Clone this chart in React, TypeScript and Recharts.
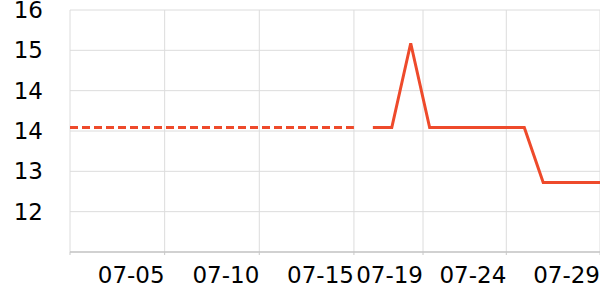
import React from 'react';
import { LineChart, Line, XAxis, YAxis, CartesianGrid } from 'recharts';

// x positions are day indexes along the axis
const xDays = [0, 1, 2, 3, 4, 5, 6, 7, 8, 9, 10, 11, 12, 13, 14, 15, 16, 17, 18, 19, 20, 21, 22, 23, 24, 25, 26, 27, 28];
const dashedValues: (number | null)[] = [
  13.67, 13.67, 13.67, 13.67, 13.67, 13.67, 13.67, 13.67, 13.67, 13.67, 13.67, 13.67, 13.67, 13.67, 13.67, 13.67,
  null, null, null, null, null, null, null, null, null, null, null, null, null,
];
const solidValues: (number | null)[] = [
  null, null, null, null, null, null, null, null, null, null, null, null, null, null, null, null,
  13.67, 13.67, 15.34, 13.67, 13.67, 13.67, 13.67, 13.67, 13.67, 12.58, 12.58, 12.58, 12.58,
];
const xTicks = [0, 5, 10, 15, 18.65, 23.05, 28];
const xTickLabels = ['', '07-05', '07-10', '07-15', '07-19', '07-24', '07-29'];
const yTicks = [11.2, 12, 12.8, 13.6, 14.4, 15.2, 16];
const yTickLabels = ['', '12', '13', '14', '14', '15', '16'];

const data = xDays.map((x, i) => ({ x, dashed: dashedValues[i], solid: solidValues[i] }));

const FONT = 'DejaVu Sans';
const LINE_COLOR = '#ee4a2b';

const XTick = (props: any) => {
  const { x, y, payload } = props;
  const idx = xTicks.indexOf(payload.value);
  const label = idx >= 0 ? xTickLabels[idx] : '';
  return (
    <text x={x} y={y} dy="0.71em" textAnchor="end" fontSize={23} fill="#000" fontFamily={FONT}>
      {label}
    </text>
  );
};

const YTick = (props: any) => {
  const { x, y, payload } = props;
  const idx = yTicks.indexOf(payload.value);
  const label = idx >= 0 ? yTickLabels[idx] : '';
  return (
    <text x={x} y={y} dy="0.355em" textAnchor="end" fontSize={23} fill="#000" fontFamily={FONT}>
      {label}
    </text>
  );
};

export default function App() {
  return (
    <div style={{ position: 'absolute', left: 0, top: 0, width: 600, height: 300, background: '#fff' }}>
      <LineChart width={600} height={300} data={data} margin={{ top: 10, right: 0, left: 0, bottom: 0 }}>
        <CartesianGrid stroke="#dcdcdc" strokeWidth={1} />
        <XAxis
          type="number"
          dataKey="x"
          domain={[0, 28]}
          ticks={xTicks}
          interval={0}
          height={48}
          tickSize={3}
          tickMargin={12}
          axisLine={{ stroke: '#b5b5b5' }}
          tickLine={{ stroke: '#c8c8c8' }}
          tick={<XTick />}
        />
        <YAxis
          type="number"
          domain={[11.2, 16]}
          ticks={yTicks}
          interval={0}
          width={70}
          tickSize={0}
          tickMargin={27}
          axisLine={false}
          tickLine={false}
          tick={<YTick />}
        />
        <Line
          type="linear"
          dataKey="dashed"
          stroke={LINE_COLOR}
          strokeWidth={3}
          strokeDasharray="8 4"
          dot={false}
          activeDot={false}
          isAnimationActive={false}
        />
        <Line
          type="linear"
          dataKey="solid"
          stroke={LINE_COLOR}
          strokeWidth={3}
          dot={false}
          activeDot={false}
          isAnimationActive={false}
        />
      </LineChart>
    </div>
  );
}
